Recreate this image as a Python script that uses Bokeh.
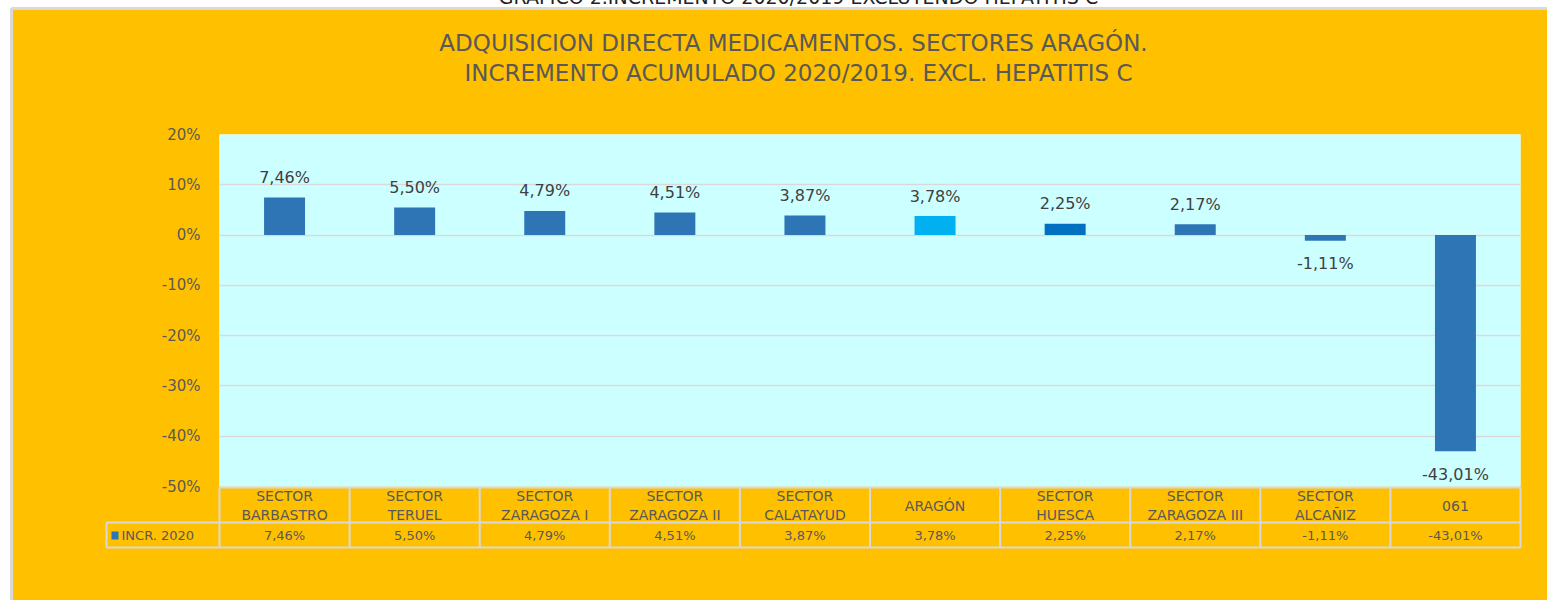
from bokeh.plotting import figure
from bokeh.models import ColumnDataSource, FixedTicker, PrintfTickFormatter, Range1d
from bokeh.core.properties import value
from bokeh.embed import file_html
from bokeh.resources import INLINE

# ---- data ----
categories = ["SECTOR\nBARBASTRO", "SECTOR\nTERUEL", "SECTOR\nZARAGOZA I", "SECTOR\nZARAGOZA II",
              "SECTOR\nCALATAYUD", "ARAGÓN", "SECTOR\nHUESCA", "SECTOR\nZARAGOZA III",
              "SECTOR\nALCAÑIZ", "061"]
values = [7.46, 5.50, 4.79, 4.51, 3.87, 3.78, 2.25, 2.17, -1.11, -43.01]
bar_colors = ["#2E75B6", "#2E75B6", "#2E75B6", "#2E75B6", "#2E75B6", "#00B0F0", "#0070C0",
              "#2E75B6", "#2E75B6", "#2E75B6"]
y_ticks = [-50, -40, -30, -20, -10, 0, 10, 20]
series_name = "INCR. 2020"
title_lines = ["ADQUISICION DIRECTA MEDICAMENTOS. SECTORES ARAGÓN.",
               "INCREMENTO ACUMULADO 2020/2019. EXCL. HEPATITIS C"]
page_heading = "GRAFICO 2.INCREMENTO 2020/2019 EXCLUYENDO HEPATITIS C"

ORANGE = "#FFC000"
GRID = "#D9D9D9"
TXT = "#595959"
FONT = "DejaVu Sans"

W, H = 1547, 600
# geometry (canvas pixels)
FL, FR, FT, FB = 219, 1520, 134, 486
YMIN, YMAX = -50, 20
n = len(categories)
pxx = (FR - FL) / n
pxy = (FB - FT) / (YMAX - YMIN)

def dx(px):
    return (px - FL) / pxx

def dy(py):
    return YMAX - (py - FT) / pxy

p = figure(width=W, height=H, output_backend="svg", toolbar_location=None,
           x_range=Range1d(0, n), y_range=Range1d(YMIN, YMAX),
           min_border_left=FL, min_border_right=W - FR,
           min_border_top=FT, min_border_bottom=H - FB,
           background_fill_color="#CCFFFF", border_fill_color=ORANGE,
           outline_line_color=None)

p.xaxis.visible = False
p.xgrid.visible = False
p.ygrid.grid_line_color = GRID
p.ygrid.grid_line_width = 1.5
p.yaxis.ticker = FixedTicker(ticks=y_ticks)
p.yaxis.formatter = PrintfTickFormatter(format="%d%%")
p.yaxis.axis_line_color = None
p.yaxis.major_tick_line_color = None
p.yaxis.minor_tick_line_color = None
p.yaxis.major_label_standoff = 13
p.yaxis.major_label_text_font = FONT
p.yaxis.major_label_text_font_size = "15px"
p.yaxis.major_label_text_color = TXT

# page frame: white margin, grey edge and cut-off heading
p.quad(left=[dx(0), dx(0)], right=[dx(10), dx(W + 5)], top=[dy(-20), dy(-20)],
       bottom=[dy(H + 5), dy(7)], color="white", level="overlay")
p.segment(x0=[dx(11), dx(11)], y0=[dy(8), dy(8)], x1=[dx(11), dx(W + 5)], y1=[dy(H + 5), dy(8)],
          line_color=GRID, line_width=3, level="overlay")
p.text(x=[dx(798)], y=[dy(-4)], text=[page_heading], text_align="center",
       text_baseline="alphabetic", text_font=value(FONT), text_font_size="19px",
       text_color="#222222", level="overlay")

xs = [i + 0.5 for i in range(n)]
labels = [f"{v:.2f}".replace(".", ",") + "%" for v in values]
offs = [-20 if v >= 0 else 23 for v in values]
src = ColumnDataSource(dict(x=xs, top=values, color=bar_colors, label=labels, off=offs))

p.vbar(x="x", top="top", bottom=0, width=0.315, fill_color="color", line_color=None,
       source=src)
p.text(x="x", y="top", text="label", y_offset="off", source=src, text_align="center",
       text_baseline="middle", text_font=value(FONT), text_font_size="16px",
       text_color="#404040", level="overlay")

# title
p.text(x=[dx(793), dx(798)], y=[dy(42), dy(72)], text=title_lines, text_align="center",
       text_baseline="middle", text_font=value(FONT), text_font_size="23px",
       text_color=TXT, level="overlay")

# data table below the chart
ytop, ymid, ybot = dy(487), dy(522), dy(547)
bx = [dx(FL + pxx * i) for i in range(n + 1)]
seg_x0 = [dx(106), dx(FL)] + bx + [dx(106), dx(106)]
seg_x1 = [dx(FR), dx(FR)] + bx + [dx(FR), dx(106)]
seg_y0 = [ymid, ytop] + [ytop] * (n + 1) + [ybot, ymid]
seg_y1 = [ymid, ytop] + [ybot] * (n + 1) + [ybot, ybot]
p.segment(x0=seg_x0, y0=seg_y0, x1=seg_x1, y1=seg_y1, line_color=GRID, line_width=2,
          level="overlay")

tsrc = ColumnDataSource(dict(x=xs, cat=categories, label=labels,
                             yc=[dy(505)] * n, yv=[dy(535)] * n))
p.text(x="x", y="yc", text="cat", source=tsrc, text_align="center",
       text_baseline="middle", text_font=value(FONT), text_font_size="14px",
       text_color=TXT, text_line_height=1.15, level="overlay")
p.text(x="x", y="yv", text="label", source=tsrc, text_align="center",
       text_baseline="middle", text_font=value(FONT), text_font_size="13px",
       text_color=TXT, level="overlay")
p.quad(left=[dx(111)], right=[dx(118)], top=[dy(531)], bottom=[dy(539)],
       fill_color="#2E75B6", line_color=None, level="overlay")
p.text(x=[dx(121)], y=[dy(535)], text=[series_name], text_align="left",
       text_baseline="middle", text_font=value(FONT), text_font_size="13px",
       text_color=TXT, level="overlay")

open("out.html", "w").write(file_html(p, INLINE))
